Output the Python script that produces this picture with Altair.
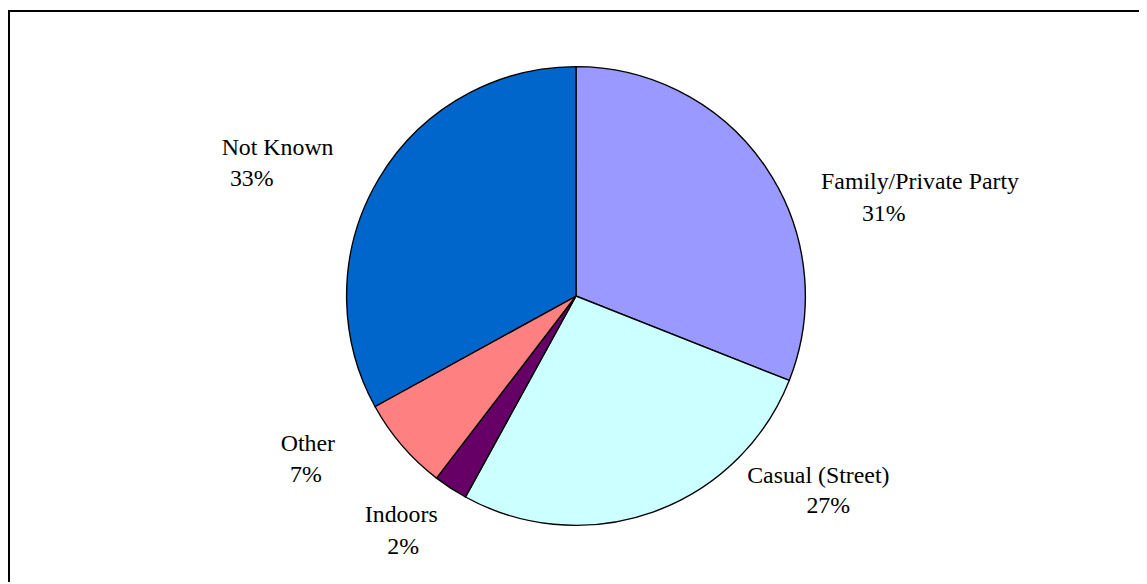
import altair as alt
import pandas as pd

# ---- data ----
categories = ["Family/Private Party", "Casual (Street)", "Indoors", "Other", "Not Known"]
shares = [31, 27, 2.4, 6.6, 33]
colors = ["#9999FF", "#CCFFFF", "#660066", "#FF8080", "#0066CC"]

df = pd.DataFrame({"category": categories, "share": shares, "idx": list(range(len(categories)))})

# ---- layout ----
W, H = 1139, 576
CX, CY = 572, 288
PIE_R = 231
LABEL_R = 290
FONT = "Liberation Serif"
FSIZE = 24

# label nudges (dx, dy) for the name line and the percent line
nudges = {
    "Family/Private Party": ((106.6, 55.0), (70.1, 87.0)),
    "Casual (Street)": ((145.8, -84.9), (155.8, -53.9)),
    "Indoors": ((-17.5, -14.9), (-15.5, 17.1)),
    "Other": ((-50.1, -33.1), (-52.1, -2.1)),
    "Not Known": ((-50.9, 5.6), (-76.9, 36.6)),
}

base = alt.Chart(df).transform_joinaggregate(total="sum(share)").transform_calculate(
    frac="datum.share / datum.total"
)

theta = alt.Theta("share:Q", stack=True)
order = alt.Order("idx:Q", sort="ascending")

pie = base.mark_arc(outerRadius=PIE_R, stroke="black", strokeWidth=1.4).encode(
    x=alt.value(CX),
    y=alt.value(CY),
    theta=theta,
    order=order,
    color=alt.Color("category:N", scale=alt.Scale(domain=categories, range=colors), legend=None),
)

layers = [pie]
for cat in categories:
    (d1x, d1y), (d2x, d2y) = nudges[cat]
    for txt, (ddx, ddy) in (
        (alt.Text("category:N"), (d1x, d1y)),
        (alt.Text("frac:Q", format=".0%"), (d2x, d2y)),
    ):
        layers.append(
            base.mark_text(
                radius=LABEL_R, dx=ddx, dy=ddy, font=FONT, fontSize=FSIZE,
                align="center", baseline="alphabetic", color="black",
            ).encode(
                x=alt.value(CX),
                y=alt.value(CY),
                theta=theta,
                order=order,
                detail="category:N",
                text=alt.condition(alt.datum.category == cat, txt, alt.value("")),
            )
        )

frame_df = pd.DataFrame({"k": [0]})
left_border = alt.Chart(frame_df).mark_rule(color="black", strokeWidth=2).encode(
    x=alt.value(1), y=alt.value(0), y2=alt.value(H)
)
top_border = alt.Chart(frame_df).mark_rule(color="black", strokeWidth=2).encode(
    x=alt.value(0), x2=alt.value(W), y=alt.value(1)
)
layers += [left_border, top_border]

chart = alt.layer(*layers).properties(
    width=W,
    height=H,
    autosize=alt.AutoSizeParams(type="none"),
    padding={"left": 0, "top": 0, "right": 0, "bottom": 0},
    background="white",
).configure_view(stroke=None)

chart.save("out.html", embed_options={"renderer": "svg", "actions": False})
